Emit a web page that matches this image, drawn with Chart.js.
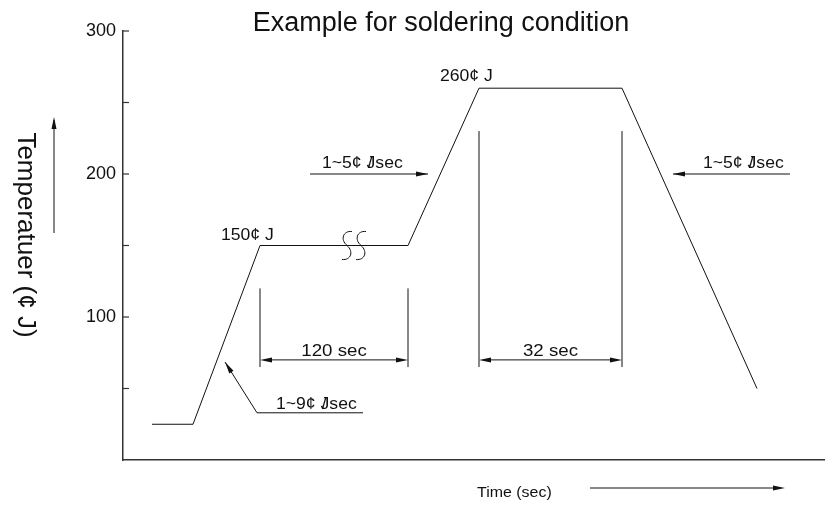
<!DOCTYPE html>
<html lang="en">
  <head>
    <meta charset="UTF-8" />
    <title>Example for soldering condition</title>
    <style>
      body {
        margin: 0;
        padding: 0;
        background-color: #fff;
      }
      #chart {
        display: block;
      }
    </style>
  </head>
  <body>
    <canvas id="chart" width="825" height="506"></canvas>

    <script src="https://cdn.jsdelivr.net/npm/chart.js"></script>
    <script>
      // Reflow profile (time axis has no printed scale, units are arbitrary)
      var timePoints = [14.5, 35, 68.5, 142.5, 178, 249.5, 317];
      var tempPoints = [25, 25, 150, 150, 260, 260, 50];

      var yTickValues = [50, 100, 150, 200, 250, 300];
      var yTickLabels = ["100", "200", "300"];

      // Peak / plateau labels
      var levelLabels = ["150¢ J", "260¢ J"];
      var levelTimes = [49, 158.5];
      var levelTemps = [154, 265];

      // Dimension spans
      var spanLabels = ["120 sec", "32 sec"];
      var spanStart = [68.5, 178];
      var spanEnd = [142.5, 249.5];
      var spanTop = [120, 230];
      var spanBottom = [65, 65];
      var spanLevel = [70, 70];

      // Ramp rate notes
      var rateLabels = ["1~5", "1~5", "1~9"];
      var rateTextTimes = [99.5, 290, 76.5];
      var rateTextTemps = [204, 204, 36];
      var rateFromTimes = [93.5, 333.5, 120];
      var rateToTimes = [152.5, 275, 67];
      var rateTemps = [200, 200, 33];

      // bottom rate note has a leader going up to the ramp
      var leaderTip = { time: 51, temp: 68.5 };
      var breakTime = 115.5;

      var FONT = "'Liberation Sans', Arial, sans-serif";
      var INK = "#111";

      function arrowHead(ctx, x, y, angle) {
        ctx.save();
        ctx.translate(x, y);
        ctx.rotate(angle);
        ctx.beginPath();
        ctx.moveTo(0, 0);
        ctx.lineTo(-12, -2.5);
        ctx.lineTo(-12, 2.5);
        ctx.closePath();
        ctx.fill();
        ctx.restore();
      }

      function line(ctx, x1, y1, x2, y2) {
        ctx.beginPath();
        ctx.moveTo(x1, y1);
        ctx.lineTo(x2, y2);
        ctx.stroke();
      }

      // slightly wide text, like the original drawing
      function wideText(ctx, text, x, y, size, align) {
        ctx.save();
        ctx.font = size + "px " + FONT;
        ctx.textAlign = align || "left";
        ctx.textBaseline = "alphabetic";
        ctx.translate(x, y);
        ctx.scale(1.1, 1);
        ctx.fillText(text, 0, 0);
        ctx.restore();
      }

      function rateText(ctx, prefix, x, y) {
        ctx.save();
        ctx.font = "16px " + FONT;
        ctx.textAlign = "left";
        ctx.textBaseline = "alphabetic";
        ctx.translate(x, y);
        ctx.scale(1.1, 1);
        var head = prefix + "¢ ";
        ctx.fillText(head, 0, 0);
        var w = ctx.measureText(head).width;
        ctx.fillText("J", w, 0);
        ctx.fillText("/", w + 1, 0);
        ctx.fillText("sec", w + ctx.measureText("J").width, 0);
        ctx.restore();
      }

      function sCurve(ctx, cx, cy) {
        ctx.beginPath();
        ctx.moveTo(cx + 5, cy - 14);
        ctx.bezierCurveTo(cx - 4, cy - 15, cx - 7, cy - 6, cx, cy);
        ctx.bezierCurveTo(cx + 7, cy + 6, cx + 4, cy + 15, cx - 5, cy + 14);
        ctx.stroke();
      }

      var drawingPlugin = {
        id: "drawing",
        afterDraw: function (chart) {
          var ctx = chart.ctx;
          var xs = chart.scales.x;
          var ys = chart.scales.y;
          var px = function (v) {
            return xs.getPixelForValue(v);
          };
          var py = function (v) {
            return ys.getPixelForValue(v);
          };
          var area = chart.chartArea;

          ctx.save();
          ctx.strokeStyle = INK;
          ctx.fillStyle = INK;
          ctx.lineWidth = 1;

          // inner ticks on the temperature axis
          ctx.strokeStyle = "#333";
          ctx.lineWidth = 1.2;
          yTickValues.forEach(function (v) {
            line(ctx, area.left, py(v), area.left + 6, py(v));
          });
          ctx.strokeStyle = INK;
          ctx.lineWidth = 1;

          // title
          ctx.font = "27px " + FONT;
          ctx.textAlign = "center";
          ctx.fillText("Example for soldering condition", 441, 31);

          // axis titles + arrows
          ctx.save();
          ctx.translate(18, 235);
          ctx.rotate(Math.PI / 2);
          ctx.font = "26px " + FONT;
          ctx.textAlign = "center";
          ctx.fillText("Temperatuer (¢ J)", 0, 0);
          ctx.restore();
          line(ctx, 54, 233, 54, 120);
          arrowHead(ctx, 54, 117, -Math.PI / 2);

          wideText(ctx, "Time (sec)", 477, 497, 14.5);
          line(ctx, 590, 488, 780, 488);
          arrowHead(ctx, 785, 488, 0);

          // plateau labels
          levelLabels.forEach(function (t, i) {
            wideText(ctx, t, px(levelTimes[i]), py(levelTemps[i]), 16);
          });

          // break mark on the soak plateau
          var bx = px(breakTime);
          var by = py(150);
          sCurve(ctx, bx - 7, by);
          sCurve(ctx, bx + 7, by);

          // dimension spans
          spanLabels.forEach(function (t, i) {
            var x1 = px(spanStart[i]);
            var x2 = px(spanEnd[i]);
            var yl = py(spanLevel[i]);
            line(ctx, x1, py(spanTop[i]), x1, py(spanBottom[i]));
            line(ctx, x2, py(spanTop[i]), x2, py(spanBottom[i]));
            line(ctx, x1 + 6, yl, x2 - 6, yl);
            arrowHead(ctx, x1, yl, Math.PI);
            arrowHead(ctx, x2, yl, 0);
            wideText(ctx, t, (x1 + x2) / 2, yl - 4, 17, "center");
          });

          // ramp rate notes
          rateLabels.forEach(function (t, i) {
            rateText(ctx, t, px(rateTextTimes[i]), py(rateTextTemps[i]));
            var x1 = px(rateFromTimes[i]);
            var x2 = px(rateToTimes[i]);
            var y = py(rateTemps[i]);
            if (i < 2) {
              line(ctx, x1, y, x2, y);
              arrowHead(ctx, x2, y, x2 > x1 ? 0 : Math.PI);
            } else {
              line(ctx, x1, y, x2, y);
              var tx = px(leaderTip.time);
              var ty = py(leaderTip.temp);
              line(ctx, x2, y, tx, ty);
              arrowHead(ctx, tx, ty, Math.atan2(ty - y, tx - x2));
            }
          });

          ctx.restore();
        },
      };

      Chart.defaults.font.family = FONT;
      Chart.defaults.color = INK;

      var ctx = document.getElementById("chart").getContext("2d");
      new Chart(ctx, {
        type: "line",
        data: {
          datasets: [
            {
              data: timePoints.map(function (t, i) {
                return { x: t, y: tempPoints[i] };
              }),
              borderColor: INK,
              borderWidth: 1,
              pointRadius: 0,
              tension: 0,
              fill: false,
            },
          ],
        },
        options: {
          responsive: false,
          animation: false,
          layout: { padding: { top: 31, right: 0, bottom: 0, left: 0 } },
          plugins: {
            legend: { display: false },
            title: { display: false },
            tooltip: { enabled: false },
          },
          scales: {
            x: {
              type: "linear",
              min: 0,
              max: 351,
              ticks: { display: false },
              grid: { display: false, drawTicks: false },
              border: { display: true, color: "#333", width: 1.5 },
              afterFit: function (s) {
                s.height = 46;
              },
            },
            y: {
              min: 0,
              max: 300,
              ticks: {
                stepSize: 50,
                padding: 7,
                font: { size: 18 },
                color: INK,
                callback: function (v) {
                  var s = String(v);
                  return yTickLabels.indexOf(s) >= 0 ? s : "";
                },
              },
              grid: { display: false, drawTicks: false },
              border: { display: true, color: "#333", width: 1.5 },
              afterFit: function (s) {
                s.width = 123;
              },
            },
          },
        },
        plugins: [drawingPlugin],
      });
    </script>
  </body>
</html>
